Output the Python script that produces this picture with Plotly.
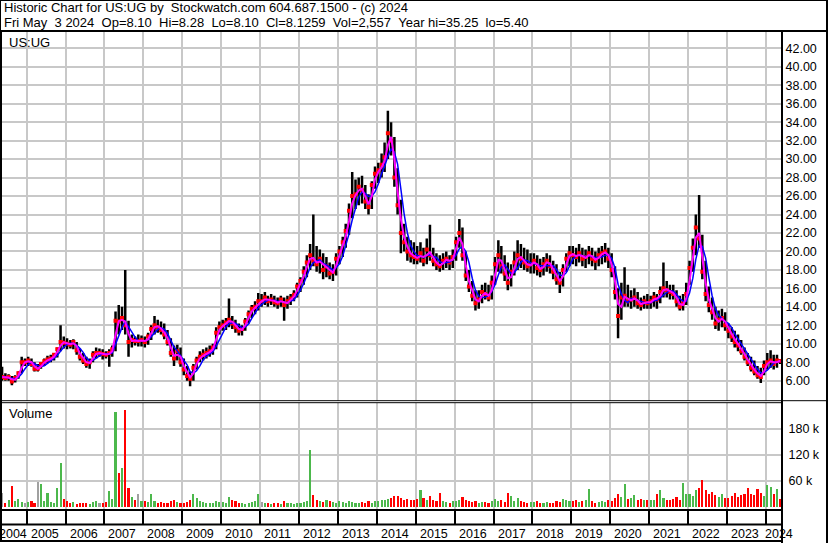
import pandas as pd
import plotly.graph_objects as go

W, H = 830, 543

# ---------------- data (monthly, May 2004 .. May 2024) ----------------
start_month = "2004-05-01"

high = [
    7.5, 6.8, 6.7, 6.5, 6.6, 7.0, 8.6, 8.4,
    8.6, 8.4, 8.0, 7.8, 8.0, 8.4, 8.7, 8.8, 9.0, 9.6, 12.0, 10.8,
    10.6, 10.4, 10.5, 10.2, 9.5, 9.0, 8.6, 8.4, 9.2, 9.6, 9.5, 9.4,
    9.2, 9.4, 9.8, 13.5, 14.2, 14.0, 18.0, 12.5, 11.0, 10.8, 11.0, 10.9,
    10.8, 11.2, 12.0, 13.0, 12.6, 12.4, 12.2, 11.5, 10.6, 9.8, 9.9, 9.6,
    8.4, 7.6, 7.0, 7.8, 8.6, 9.2, 9.4, 9.6, 9.8, 10.0, 11.8, 12.4,
    12.6, 12.8, 14.9, 13.0, 12.6, 12.2, 12.0, 12.8, 13.6, 14.2, 14.6, 15.5,
    15.4, 15.6, 15.2, 15.4, 15.2, 15.0, 15.2, 15.0, 15.2, 15.4, 15.8, 16.6,
    17.2, 18.4, 19.6, 20.8, 24.0, 20.6, 20.2, 19.8, 19.4, 18.8, 18.6, 19.8,
    20.6, 21.6, 23.0, 25.2, 28.6, 27.8, 28.0, 28.2, 27.2, 26.2, 27.6, 29.2,
    29.6, 30.6, 31.8, 35.25, 34.0, 32.4, 29.0, 25.6, 23.0, 21.6, 21.2, 21.0,
    20.6, 21.0, 20.4, 21.4, 22.9, 20.4, 19.8, 19.6, 19.8, 20.0, 19.6, 20.2,
    21.6, 23.5, 22.6, 20.0, 18.0, 16.8, 15.8, 15.8, 16.4, 16.6, 16.4, 17.4,
    19.4, 21.2, 20.6, 19.6, 18.8, 18.6, 20.0, 21.2, 20.8, 20.4, 20.2, 19.8,
    19.8, 19.6, 19.2, 19.4, 19.8, 19.6, 19.0, 18.6, 17.8, 18.6, 19.8, 20.6,
    20.6, 20.4, 20.8, 20.4, 20.2, 20.6, 20.4, 20.0, 20.4, 20.6, 20.9, 20.4,
    19.8, 18.4, 16.0, 16.6, 18.3, 16.4, 15.8, 16.0, 15.6, 15.0, 15.2, 15.4,
    15.2, 15.6, 15.4, 16.2, 18.8, 16.8, 16.4, 16.4, 15.8, 15.2, 15.4, 16.6,
    19.0, 21.4, 24.0, 26.1, 21.8, 19.0, 16.2, 15.0, 14.0, 13.6, 13.8, 13.4,
    12.2, 11.8, 11.4, 11.0, 10.4, 9.6, 9.0, 8.6, 8.2, 7.6, 7.4, 8.2,
    9.0, 9.3, 8.8, 8.8, 8.28,
]

low = [
    6.0, 6.0, 6.0, 5.5, 5.8, 6.2, 6.8, 7.6,
    7.6, 7.5, 7.0, 7.0, 7.3, 7.6, 7.9, 8.0, 8.2, 8.5, 9.2, 9.5,
    9.4, 9.5, 9.4, 8.8, 8.2, 7.8, 7.4, 7.3, 8.0, 8.4, 8.6, 8.3,
    8.4, 7.5, 8.6, 9.2, 11.0, 11.5, 11.0, 8.6, 9.6, 9.8, 9.7, 9.7,
    9.6, 9.9, 10.4, 11.0, 11.2, 11.0, 10.5, 9.8, 8.6, 7.6, 8.2, 7.5,
    6.6, 6.0, 5.4, 6.0, 7.2, 8.0, 8.2, 8.4, 8.6, 8.8, 9.4, 11.0,
    11.4, 11.5, 11.8, 11.6, 11.2, 10.9, 10.9, 11.4, 12.2, 12.8, 13.2, 13.6,
    14.0, 14.2, 14.0, 14.2, 14.0, 13.8, 14.0, 12.5, 13.8, 14.2, 14.6, 15.0,
    15.6, 16.4, 17.2, 18.0, 18.4, 17.8, 17.6, 17.0, 17.2, 17.0, 16.8, 17.4,
    18.6, 19.4, 20.4, 21.8, 23.6, 24.6, 25.0, 25.2, 24.6, 24.0, 24.6, 26.8,
    27.4, 28.0, 28.6, 30.0, 30.4, 27.0, 24.0, 19.8, 20.0, 19.0, 18.8, 18.6,
    18.6, 18.8, 18.4, 18.6, 19.0, 18.4, 18.0, 17.8, 18.0, 18.2, 18.0, 18.2,
    19.0, 20.4, 19.0, 16.8, 15.6, 14.6, 13.6, 13.8, 14.4, 14.8, 14.6, 14.8,
    16.4, 17.8, 17.6, 16.8, 15.8, 16.2, 17.4, 18.0, 18.2, 18.0, 17.8, 17.6,
    17.6, 17.4, 17.2, 17.4, 17.8, 17.6, 17.0, 16.4, 15.5, 16.2, 17.8, 18.4,
    18.6, 18.4, 18.8, 18.4, 18.2, 18.6, 18.4, 18.0, 18.4, 18.6, 18.8, 18.2,
    17.2, 14.8, 10.6, 12.6, 14.0, 14.0, 13.8, 14.0, 13.8, 13.6, 13.8, 13.8,
    13.8, 14.0, 13.8, 14.4, 15.0, 15.0, 14.8, 14.8, 14.0, 13.6, 13.6, 14.2,
    16.4, 17.8, 19.6, 20.4, 17.0, 14.6, 13.4, 12.6, 11.6, 11.4, 11.8, 11.4,
    10.6, 10.2, 9.6, 9.2, 8.8, 8.2, 7.6, 7.0, 6.6, 6.2, 5.75, 6.6,
    7.2, 7.4, 7.2, 7.4, 7.8,
]

close = [
    6.4, 6.3, 6.4, 5.9, 6.3, 6.8, 8.0, 8.0,
    8.2, 7.8, 7.3, 7.3, 7.8, 8.1, 8.3, 8.4, 8.8, 9.4, 10.2, 10.1,
    10.0, 9.9, 10.2, 9.3, 8.6, 8.2, 7.8, 8.0, 8.8, 9.0, 9.0, 8.9,
    8.8, 9.0, 9.4, 12.5, 12.4, 12.8, 12.0, 10.2, 10.4, 10.3, 10.3, 10.4,
    10.2, 10.8, 11.6, 12.0, 11.8, 11.5, 11.0, 10.2, 9.0, 8.4, 9.2, 8.0,
    7.2, 6.5, 6.2, 7.4, 8.2, 8.6, 8.8, 9.0, 9.2, 9.6, 11.2, 11.8,
    12.0, 12.3, 12.6, 12.2, 11.8, 11.4, 11.6, 12.4, 13.2, 13.8, 14.0, 14.6,
    14.6, 15.0, 14.6, 14.8, 14.5, 14.4, 14.8, 14.2, 14.6, 14.9, 15.3, 16.2,
    16.8, 17.8, 18.8, 19.6, 19.0, 18.6, 19.2, 18.0, 18.4, 17.6, 17.8, 19.2,
    20.0, 21.0, 22.2, 24.4, 26.0, 26.2, 27.0, 26.6, 25.4, 24.8, 27.2, 28.4,
    28.8, 29.4, 30.2, 32.8, 32.0, 28.0, 25.0, 22.0, 21.0, 20.0, 19.6, 19.4,
    19.2, 19.8, 19.0, 20.2, 19.6, 19.0, 18.6, 18.4, 19.0, 19.2, 18.8, 19.4,
    21.0, 22.0, 19.6, 17.4, 16.2, 15.2, 14.4, 14.8, 15.6, 15.4, 15.0, 16.6,
    18.6, 19.6, 18.4, 17.6, 16.6, 17.8, 18.8, 19.6, 19.2, 18.8, 18.4, 18.6,
    19.0, 18.2, 18.0, 18.6, 19.0, 18.4, 17.8, 17.0, 16.6, 18.0, 19.2, 19.8,
    19.6, 19.4, 19.8, 19.2, 19.4, 19.8, 19.2, 19.0, 19.6, 19.8, 20.0, 19.2,
    18.0, 15.6, 13.0, 15.0, 15.2, 14.6, 14.8, 15.0, 14.4, 14.2, 14.6, 14.4,
    14.6, 15.0, 14.8, 15.6, 16.0, 15.8, 15.6, 15.4, 14.6, 14.0, 14.4, 15.4,
    18.2, 20.4, 22.6, 21.4, 17.8, 15.4, 14.2, 13.4, 12.2, 12.6, 12.8, 12.0,
    11.4, 10.8, 10.2, 9.8, 9.2, 8.6, 8.0, 7.4, 7.0, 6.6, 6.4, 7.6,
    8.0, 8.2, 7.8, 8.2, 8.13,
]

volume_k = [
    34, 10, 18, 49, 14, 20, 12, 9,
    12, 15, 10, 58, 53, 14, 34, 12, 10, 44, 103, 20,
    14, 10, 12, 8, 10, 9, 11, 8, 12, 15, 9, 10,
    12, 38, 20, 220, 79, 91, 224, 44, 24, 18, 30, 15,
    15, 12, 30, 14, 10, 12, 9, 11, 14, 16, 12, 10,
    10, 12, 18, 30, 22, 14, 12, 9, 10, 11, 14, 12,
    12, 10, 24, 18, 15, 10, 9, 8, 11, 12, 15, 30,
    12, 10, 9, 8, 10, 9, 8, 14, 10, 9, 8, 10,
    10, 12, 14, 132, 28, 18, 14, 12, 16, 15, 12, 10,
    14, 12, 10, 15, 13, 10, 9, 12, 11, 14, 10, 15,
    14, 16, 18, 20, 22, 27, 25, 22, 18, 20, 16, 18,
    20, 39, 22, 18, 26, 16, 14, 34, 15, 12, 10, 14,
    14, 16, 24, 18, 15, 12, 14, 10, 13, 12, 11, 14,
    20, 15, 18, 12, 33, 25, 15, 22, 14, 12, 10, 12,
    12, 14, 10, 9, 12, 11, 10, 14, 12, 20, 18, 15,
    14, 16, 12, 14, 18, 42, 14, 10, 12, 14, 12, 16,
    14, 22, 30, 24, 53, 20, 22, 28, 18, 20, 16, 18,
    18, 16, 30, 39, 22, 18, 16, 20, 24, 18, 56, 30,
    30, 26, 40, 44, 62, 39, 30, 36, 28, 24, 30, 22,
    22, 26, 33, 24, 28, 30, 44, 30, 28, 43, 32, 26,
    51, 48, 30, 42, 20,
]

years = list(range(2004, 2025))
price_ticks = list(range(6, 43, 2))
volume_ticks = [60000, 120000, 180000]
volume_tick_text = ["60 k", "120 k", "180 k"]

title_line1 = "Historic Chart for US:UG by  Stockwatch.com 604.687.1500 - (c) 2024"
title_line2 = ("Fri May  3 2024  Op=8.10  Hi=8.28  Lo=8.10  Cl=8.1259  "
               "Vol=2,557  Year hi=35.25  lo=5.40")
symbol = "US:UG"

# ---------------- derived ----------------
dates = pd.date_range(start_month, periods=len(close), freq="MS") + pd.Timedelta(days=14)
s_close = pd.Series(close)
ma_short = s_close.rolling(2, min_periods=1).mean()
ma_long = s_close.rolling(4, min_periods=1).mean()
volume = [v * 1000 for v in volume_k]
vol_colors = []
prev = None
for c in close:
    if prev is None or c == prev:
        vol_colors.append("#a0a0a0")
    elif c > prev:
        vol_colors.append("#4cb84c")
    else:
        vol_colors.append("#ff0000")
    prev = c

# ---------------- pixel layout helpers ----------------
def px(x):
    return x / W

def py(y):
    return 1 - y / H

X2005, X2024 = 26.7, 765.8
T2005, T2024 = pd.Timestamp("2005-01-01"), pd.Timestamp("2024-01-01")
ppd = (X2024 - X2005) / (T2024 - T2005).days
PL, PR = 2.0, 781.0
x_left = T2005 - pd.Timedelta(days=(X2005 - PL) / ppd)
x_right = T2005 + pd.Timedelta(days=(PR - X2005) / ppd)

# price scale: 6.00 at y=380.7, 42.00 at y=48.3
P_Y6, P_PX = 380.7, (380.7 - 48.3) / 36.0
MAIN_TOP, MAIN_BOT = 32.0, 400.7
y_lo = 6 - (MAIN_BOT - P_Y6) / P_PX
y_hi = 6 + (P_Y6 - MAIN_TOP) / P_PX

# volume scale: 60k at y=480.3, 26 px per 60k
V_TOP, V_BOT = 402.7, 509.5
V_ZERO = 507.0
V_PER_PX = 60000 / 26.0
v_lo = -(V_BOT - V_ZERO) * V_PER_PX
v_hi = (V_ZERO - V_TOP) * V_PER_PX

# ---------------- traces ----------------
bx, by = [], []
for d, h, l in zip(dates, high, low):
    bx += [d, d, None]
    by += [l, h, None]

fig = go.Figure()
fig.add_trace(go.Scatter(x=bx, y=by, mode="lines", line=dict(color="black", width=2.5),
                         hoverinfo="skip", xaxis="x", yaxis="y"))
fig.add_trace(go.Scatter(x=dates, y=close, mode="markers",
                         marker=dict(color="red", size=4, symbol="square"),
                         xaxis="x", yaxis="y"))
fig.add_trace(go.Scatter(x=dates, y=ma_long, mode="lines", line=dict(color="#0000ff", width=1.5),
                         xaxis="x", yaxis="y"))
fig.add_trace(go.Scatter(x=dates, y=ma_short, mode="lines", line=dict(color="#ff00ff", width=2),
                         xaxis="x", yaxis="y"))
fig.add_trace(go.Bar(x=dates, y=volume, marker=dict(color=vol_colors, line=dict(width=0)),
                     width=20 * 86400000, xaxis="x2", yaxis="y2"))

GRID = "#c8c8c8"
FONT = "Arial, Liberation Sans, sans-serif"

fig.update_layout(
    width=W, height=H, margin=dict(l=0, r=0, t=0, b=0),
    paper_bgcolor="white", plot_bgcolor="white", showlegend=False,
    font=dict(family=FONT, size=13, color="black"),
    bargap=0,
    xaxis=dict(domain=[px(PL), px(PR)], range=[x_left, x_right], type="date",
               showgrid=True, gridcolor=GRID, gridwidth=1.5, dtick="M12", tick0="2005-01-01",
               showticklabels=False, ticks="", zeroline=False, showline=False, anchor="y"),
    yaxis=dict(domain=[py(MAIN_BOT), py(MAIN_TOP)], range=[y_lo, y_hi], side="right",
               tickvals=price_ticks, tickformat=".2f", showgrid=True, gridcolor=GRID,
               gridwidth=1.5, ticks="outside", ticklen=1, tickcolor="rgba(0,0,0,0)",
               zeroline=False, showline=False, anchor="x",
               tickfont=dict(size=12.5, family=FONT, color="black")),
    xaxis2=dict(domain=[px(PL), px(PR)], range=[x_left, x_right], type="date",
                showgrid=True, gridcolor=GRID, gridwidth=1.5, dtick="M12", tick0="2005-01-01",
                showticklabels=False, ticks="outside", ticklen=14, tickwidth=1.5,
                tickcolor="black", zeroline=False, showline=False, anchor="y2"),
    yaxis2=dict(domain=[py(V_BOT), py(V_TOP)], range=[v_lo, v_hi], side="right",
                tickvals=volume_ticks, ticktext=volume_tick_text, showgrid=True,
                gridcolor=GRID, gridwidth=1.5, ticks="outside", ticklen=4,
                tickcolor="rgba(0,0,0,0)", zeroline=False, showline=False, anchor="x2",
                tickfont=dict(size=12.5, family=FONT, color="black")),
)

# ---------------- frame lines ----------------
def hline(y, x0, x1, w):
    return dict(type="line", xref="paper", yref="paper", x0=px(x0), x1=px(x1),
                y0=py(y), y1=py(y), line=dict(color="black", width=w), layer="above")

def vline(x, y0, y1, w):
    return dict(type="line", xref="paper", yref="paper", x0=px(x), x1=px(x),
                y0=py(y0), y1=py(y1), line=dict(color="black", width=w), layer="above")

shapes = [
    hline(0.5, 0, 828, 1),
    hline(31, 0, 828, 2),
    vline(0.5, 0, 32, 1),
    vline(1, 31, 541, 2),
    vline(827, 0, 543, 2),
    vline(782, 31, 543, 2),
    hline(400.7, 0, 828, 1),
    hline(402.7, 0, 782, 1),
    hline(510, 0, 782, 2),
    hline(524.5, 0, 782, 2),
    hline(541, 0, 782, 2),
]
fig.update_layout(shapes=shapes)

# ---------------- texts ----------------
NB = "\u00a0"
ann = [
    dict(text=title_line1.replace("  ", NB + NB), x=px(2), y=py(7.5)),
    dict(text=title_line2.replace("  ", NB + NB), x=px(2), y=py(22.5)),
    dict(text=symbol, x=px(7), y=py(42)),
    dict(text="Volume", x=px(7), y=py(413.5)),
]
annotations = []
for a in ann:
    annotations.append(dict(a, xref="paper", yref="paper", xanchor="left", yanchor="middle",
                            showarrow=False, font=dict(size=13, family=FONT, color="black")))
for yr in years:
    if yr == 2004:
        ax, anchor, shift = "2005-01-01", "right", 2
    elif yr == 2024:
        ax, anchor, shift = "2024-01-01", "left", -3
    else:
        ax, anchor, shift = f"{yr}-01-01", "left", 2
    annotations.append(dict(text=str(yr), x=ax, xref="x2", y=py(533.5), yref="paper",
                            xanchor=anchor, yanchor="middle", xshift=shift, showarrow=False,
                            font=dict(size=12.5, family=FONT, color="black")))
fig.update_layout(annotations=annotations)

fig.write_html("out.html", config={"displayModeBar": False},
               post_script="document.body.style.margin='0px';")
